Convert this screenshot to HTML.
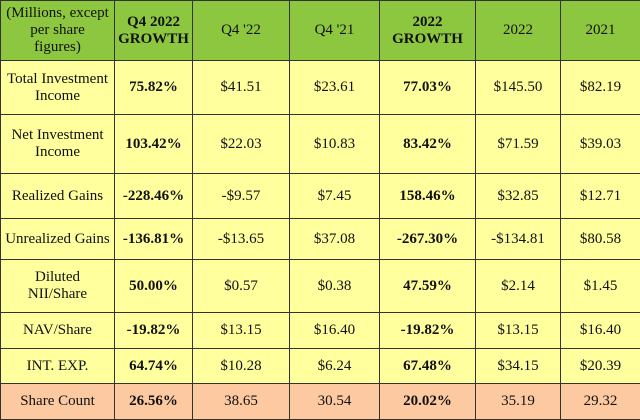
<!DOCTYPE html>
<html><head><meta charset="utf-8"><style>
html,body{margin:0;padding:0;background:#fff;}
table{position:absolute;left:0;top:0;width:640px;height:419px;border-collapse:collapse;table-layout:fixed;font-family:"Liberation Serif",serif;font-size:15px;color:#111;}
td,th{border:1.5px solid #333;text-align:center;vertical-align:middle;padding:0 2px;line-height:17px;background:#ffff9e;}
th{background:#8dc63f;font-weight:normal;}
th.b{font-weight:bold;}
td.b{font-weight:bold;}
tr.last td{background:#fcc9a0;}
</style></head><body>
<table>
<colgroup><col style="width:114px"><col style="width:78px"><col style="width:97px"><col style="width:90px"><col style="width:96px"><col style="width:85px"><col style="width:80px"></colgroup>
<tr style="height:60px">
<th style="white-space:nowrap">(Millions, except<br>per share<br>figures)</th>
<th class="b">Q4 2022<br>GROWTH</th>
<th>Q4 '22</th>
<th>Q4 '21</th>
<th class="b">2022<br>GROWTH</th>
<th>2022</th>
<th>2021</th>
</tr>
<tr style="height:54px"><td style="white-space:nowrap;padding:0">Total Investment<br>Income</td><td class="b">75.82%</td><td>$41.51</td><td>$23.61</td><td class="b">77.03%</td><td>$145.50</td><td>$82.19</td></tr>
<tr style="height:59px"><td>Net Investment<br>Income</td><td class="b">103.42%</td><td>$22.03</td><td>$10.83</td><td class="b">83.42%</td><td>$71.59</td><td>$39.03</td></tr>
<tr style="height:45px"><td>Realized Gains</td><td class="b">-228.46%</td><td>-$9.57</td><td>$7.45</td><td class="b">158.46%</td><td>$32.85</td><td>$12.71</td></tr>
<tr style="height:41px"><td style="white-space:nowrap;padding:0">Unrealized Gains</td><td class="b">-136.81%</td><td>-$13.65</td><td>$37.08</td><td class="b">-267.30%</td><td>-$134.81</td><td>$80.58</td></tr>
<tr style="height:53px"><td>Diluted<br>NII/Share</td><td class="b">50.00%</td><td>$0.57</td><td>$0.38</td><td class="b">47.59%</td><td>$2.14</td><td>$1.45</td></tr>
<tr style="height:36px"><td>NAV/Share</td><td class="b">-19.82%</td><td>$13.15</td><td>$16.40</td><td class="b">-19.82%</td><td>$13.15</td><td>$16.40</td></tr>
<tr style="height:35px"><td>INT. EXP.</td><td class="b">64.74%</td><td>$10.28</td><td>$6.24</td><td class="b">67.48%</td><td>$34.15</td><td>$20.39</td></tr>
<tr class="last" style="height:36px"><td>Share Count</td><td class="b">26.56%</td><td>38.65</td><td>30.54</td><td class="b">20.02%</td><td>35.19</td><td>29.32</td></tr>
</table>
</body></html>
